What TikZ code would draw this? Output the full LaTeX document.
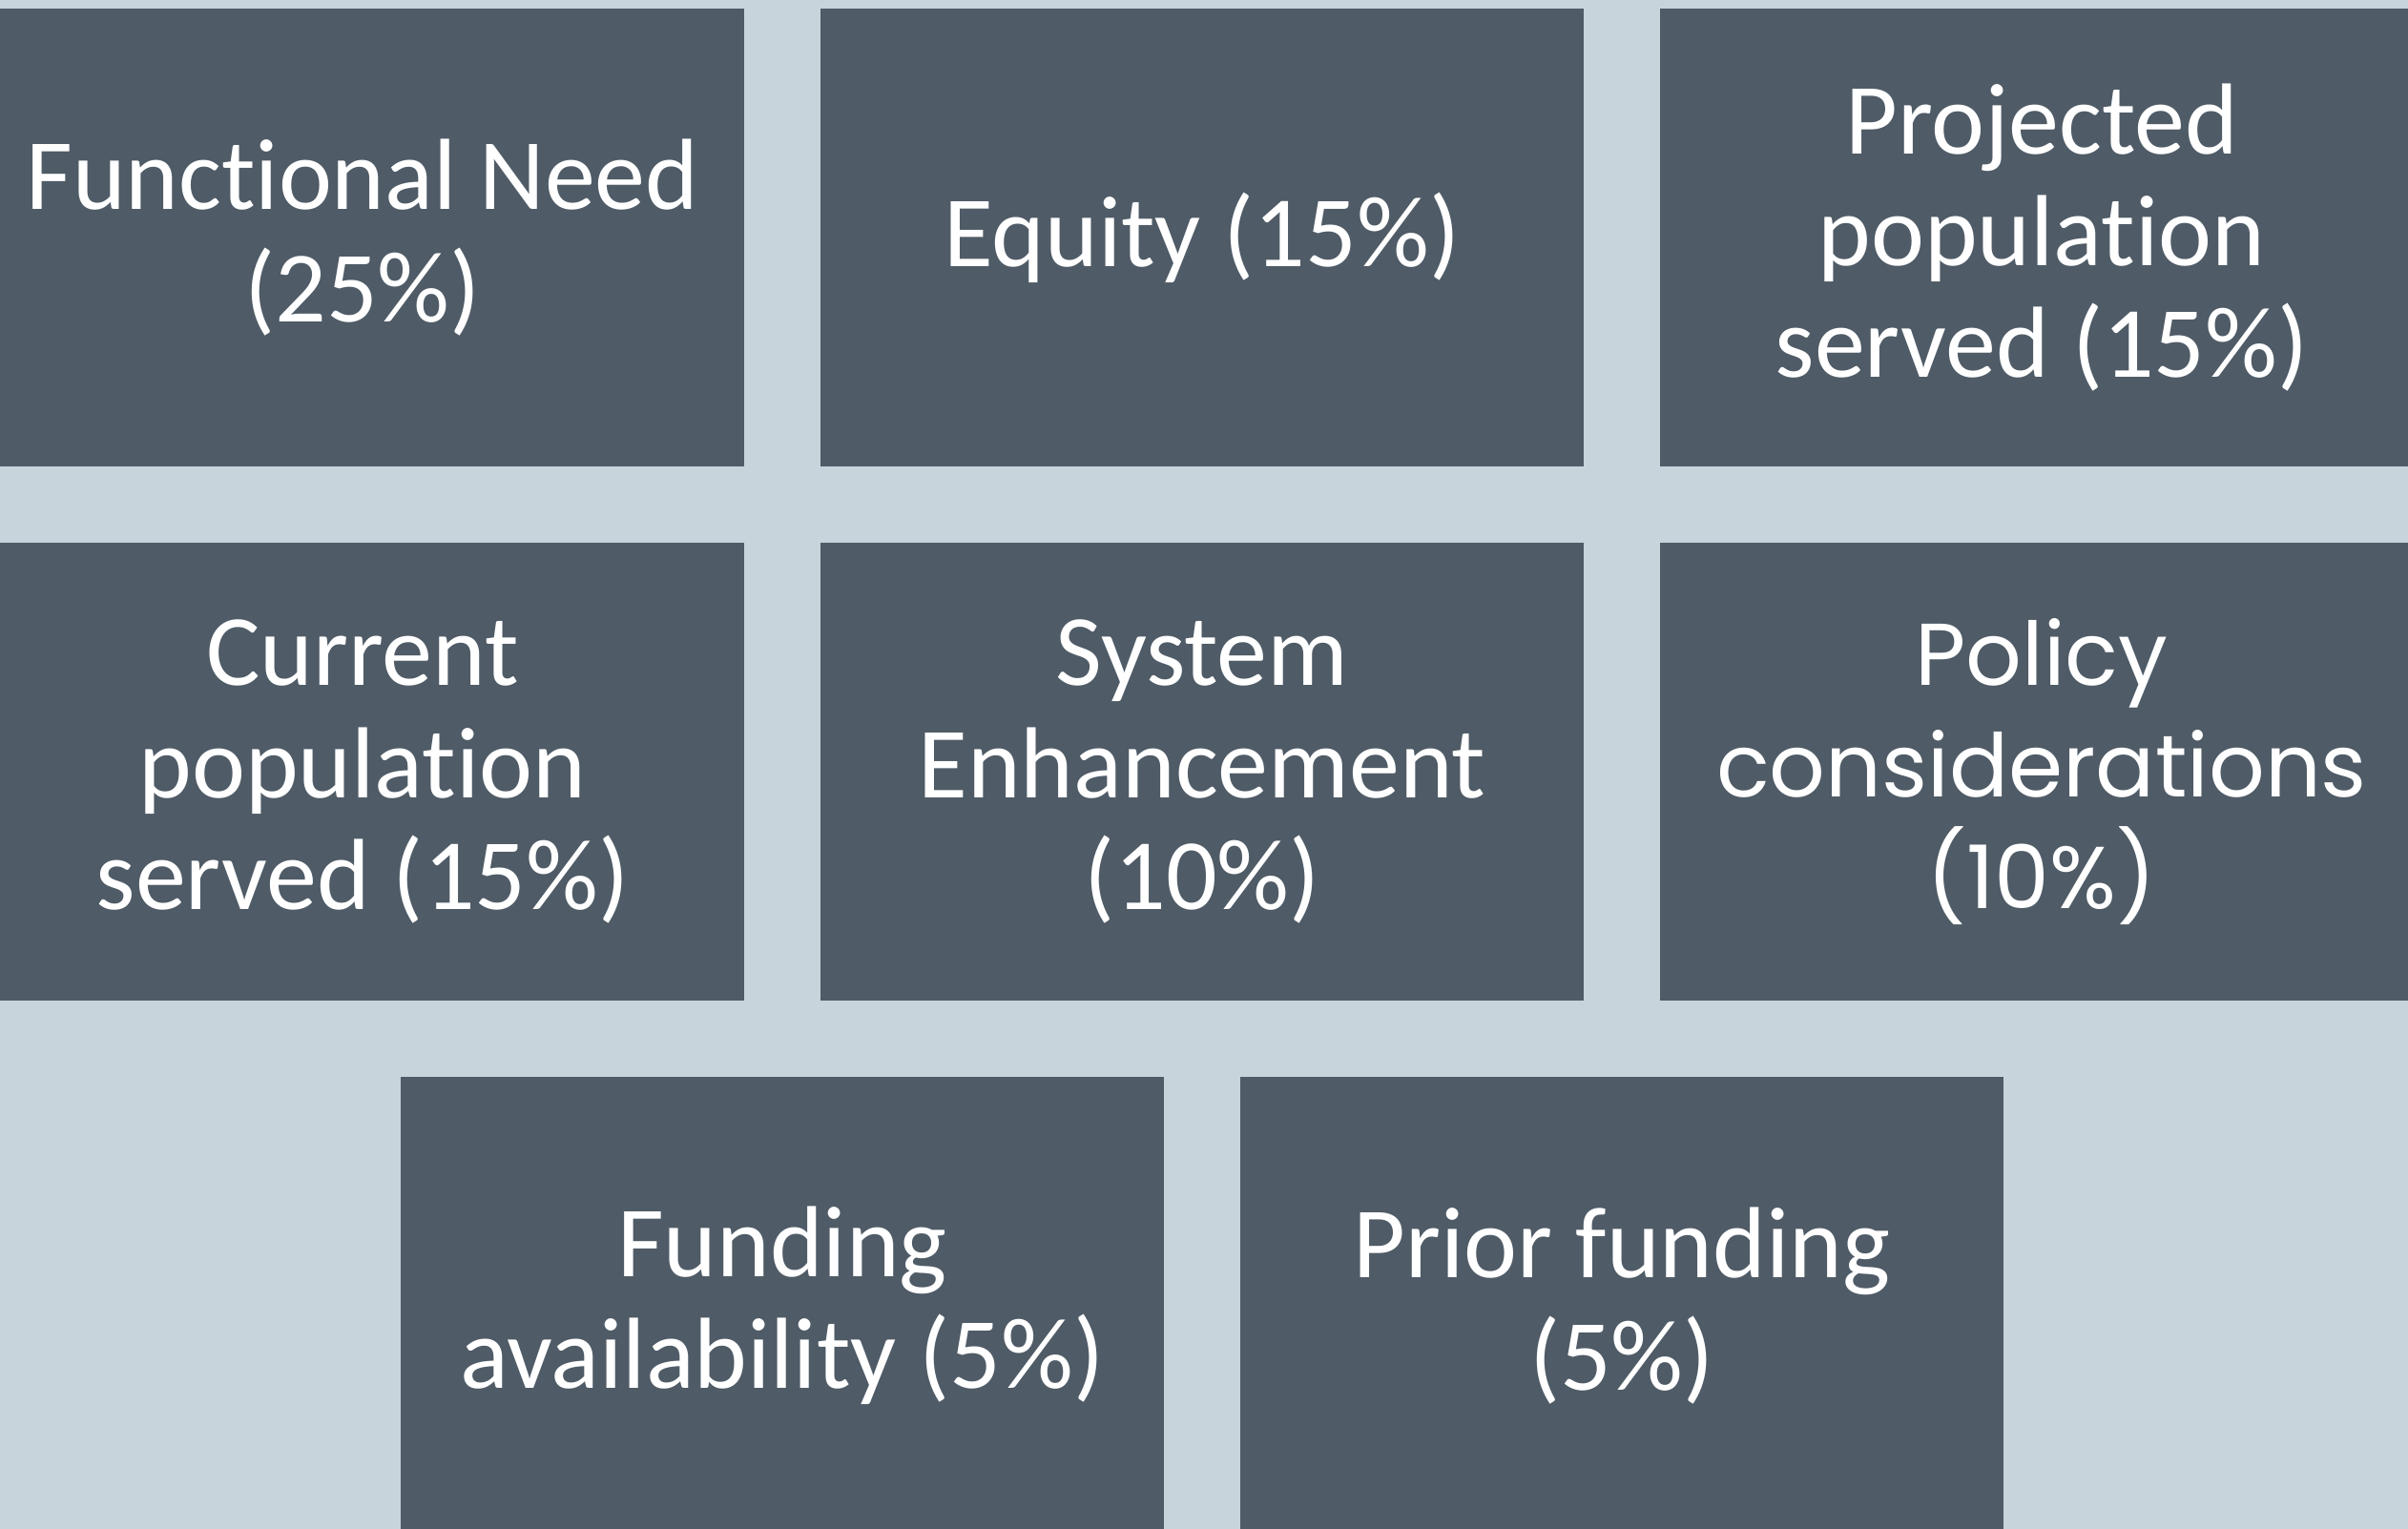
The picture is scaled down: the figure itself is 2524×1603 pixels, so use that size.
\documentclass[tikz,border=0pt]{standalone}
\usepackage{fontspec}
\setmainfont{Carlito}[RawFeature=-liga]
\newfontfamily\policyfont{Poppins}
\usepackage{xcolor}
\usetikzlibrary{positioning}
\definecolor{panelbg}{HTML}{C7D4DC}
\definecolor{critfill}{HTML}{4F5B66}

\begin{document}
\begin{tikzpicture}[x=0.25pt, y=-0.25pt,
    crit box/.style={fill=critfill, rectangle, minimum width=200pt, minimum height=120pt,
        text=white, align=center, font=\fontsize{26.5}{29.3}\selectfont, inner sep=0pt, outer sep=0pt},
    node distance=20pt]
    \useasboundingbox[fill=panelbg] (0,0) rectangle (2524,1603);
    \node[crit box] (need) at (380,249) {Functional Need\\(25\%)};
    \node[crit box, right=of need] (equity) {Equity (15\%)};
    \node[crit box, right=of equity] (projpop) {Projected\\population\\served (15\%)};

    \node[crit box, below=of need] (currpop) {Current\\population\\served (15\%)};
    \node[crit box, below=of equity] (system) {System\\Enhancement\\(10\%)};
    \node[crit box, below=of projpop, font=\policyfont\fontsize{23}{29.3}\selectfont] (policy) {Policy\\considerations\\(10\%)};

    \node[crit box] (avail) at (820,1369) {Funding\\availability (5\%)};
    \node[crit box, right=of avail] (prior) {Prior funding\\(5\%)};
\end{tikzpicture}
\end{document}
